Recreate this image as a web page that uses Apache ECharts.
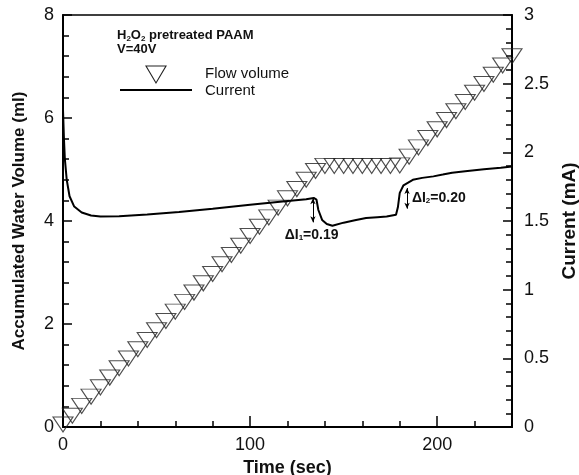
<!DOCTYPE html>
<html><head><meta charset="utf-8">
<script src="https://cdn.jsdelivr.net/npm/echarts@6/dist/echarts.min.js"></script>
<style>html,body{margin:0;padding:0;background:#fff}#c{width:579px;height:475px}</style>
</head><body><div id="c"></div>
<script>
// ---- data ----
const flowTime = [0,5,10,15,20,25,30,35,40,45,50,55,60,65,70,75,80,85,90,95,100,105,110,115,120,125,130,135,
  140,145,150,155,160,165,170,175,180,185,190,195,200,205,210,215,220,225,230,235,240];
const flowVolume = [0.05,0.22,0.41,0.59,0.77,0.96,1.14,1.33,1.51,1.69,1.88,2.06,2.24,2.43,2.61,2.79,2.97,3.16,3.34,3.52,3.71,3.89,4.07,4.26,4.44,4.62,4.80,4.97,
  5.07,5.07,5.07,5.07,5.07,5.07,5.07,5.07,5.08,5.25,5.43,5.61,5.78,5.96,6.13,6.31,6.49,6.66,6.84,7.02,7.20];

const currentTime = [0,0.5,1,2,3.5,6,10,15,20,30,45,62,80,100,116,130,134,135.5,136.5,138.5,141,144,150,156,162,168,173,178,179,180,182,187,192,198,203,208,215,225,234,240];
const currentValue = [2.31,2.10,1.95,1.80,1.68,1.605,1.562,1.540,1.532,1.535,1.548,1.566,1.590,1.618,1.640,1.658,1.668,1.655,1.58,1.508,1.478,1.465,1.488,1.505,1.522,1.528,1.532,1.545,1.60,1.705,1.76,1.80,1.814,1.825,1.838,1.852,1.862,1.876,1.887,1.896];

const xRange = [0, 240];
const volumeRange = [0, 8];
const currentRange = [0, 3];

// delta-I annotations (arrow time, arrow top/bottom current, label anchor)
const deltaNames = ['1', '2'];
const deltaValues = ['0.19', '0.20'];
const deltaArrowTime = [133.6, 183.9];
const deltaArrowTop = [1.665, 1.74];
const deltaArrowBottom = [1.49, 1.59];
const deltaLabelTime = [118.5, 186.5];
const deltaLabelCurrent = [1.40, 1.668];

const FONT = 'Arial, "Liberation Sans", Helvetica, sans-serif';
const chart = echarts.init(document.getElementById('c'), null, {renderer: 'canvas'});
const triPath = 'path://M0,0 L20,0 L10,17 Z';

const axisBase = {
  type: 'value',
  splitLine: {show: false},
  axisLine: {show: true, onZero: false, lineStyle: {color: '#000', width: 2}},
  axisLabel: {fontSize: 18, color: '#111', fontFamily: FONT, margin: 10},
  nameLocation: 'middle',
  nameTextStyle: {fontSize: 17, fontWeight: 'bold', color: '#111', fontFamily: FONT}
};

const option = {
  animation: false,
  backgroundColor: '#fff',
  grid: {left: 63, right: 67, top: 15, bottom: 48, containLabel: false, outerBoundsMode: 'none',
    show: true, borderColor: '#000', borderWidth: 1.5, backgroundColor: 'transparent'},
  xAxis: [
    Object.assign({}, axisBase, {
      min: xRange[0], max: xRange[1], interval: 20,
      axisTick: {show: true, inside: true, length: 6, lineStyle: {color: '#000', width: 1.5}},
      axisLabel: Object.assign({}, axisBase.axisLabel, {margin: 9, formatter: v => (v % 100 === 0 ? String(v) : '')}),
      name: 'Time (sec)', nameGap: 28,
      nameTextStyle: Object.assign({}, axisBase.nameTextStyle, {fontSize: 18})
    }),
    {
      type: 'value', min: xRange[0], max: xRange[1], interval: 100, position: 'bottom',
      axisLine: {show: false}, axisLabel: {show: false}, splitLine: {show: false},
      axisTick: {show: true, inside: true, length: 11, lineStyle: {color: '#000', width: 1.5}}
    }
  ],
  yAxis: [
    Object.assign({}, axisBase, {
      position: 'left', min: volumeRange[0], max: volumeRange[1], interval: 2,
      axisTick: {show: true, inside: true, length: 9, lineStyle: {color: '#000', width: 1.5}},
      minorTick: {show: true, splitNumber: 5, length: 6, lineStyle: {color: '#000', width: 1.5}},
      axisLabel: Object.assign({}, axisBase.axisLabel, {margin: 9}),
      name: 'Accumulated Water Volume (ml)', nameGap: 35, nameRotate: 90
    }),
    Object.assign({}, axisBase, {
      position: 'right', min: currentRange[0], max: currentRange[1], interval: 0.5,
      axisTick: {show: true, inside: true, length: 9, lineStyle: {color: '#000', width: 1.5}},
      minorTick: {show: true, splitNumber: 5, length: 6, lineStyle: {color: '#000', width: 1.5}},
      axisLabel: Object.assign({}, axisBase.axisLabel, {margin: 12}),
      name: 'Current (mA)', nameGap: 45, nameRotate: 90,
      nameTextStyle: Object.assign({}, axisBase.nameTextStyle, {fontSize: 19})
    })
  ],
  series: [
    {
      name: 'Flow volume', type: 'scatter', xAxisIndex: 0, yAxisIndex: 0,
      data: flowTime.map((t, i) => [t, flowVolume[i]]),
      symbol: triPath, symbolSize: [20, 15], clip: false,
      itemStyle: {color: 'rgba(0,0,0,0)', borderColor: '#222', borderWidth: 1.1},
      z: 2
    },
    {
      name: 'Current', type: 'line', xAxisIndex: 0, yAxisIndex: 1,
      data: currentTime.map((t, i) => [t, currentValue[i]]),
      showSymbol: false, symbol: 'none', smooth: false,
      lineStyle: {color: '#000', width: 2},
      z: 3,
      markLine: {
        silent: true, symbol: ['arrow', 'arrow'], symbolSize: [4, 6],
        lineStyle: {color: '#000', width: 1, type: 'solid'},
        label: {show: false},
        data: deltaArrowTime.map((t, i) => [{coord: [t, deltaArrowTop[i]]}, {coord: [t, deltaArrowBottom[i]]}])
      },
      markPoint: {
        silent: true, symbol: 'circle', symbolSize: 0,
        label: {
          show: true, position: 'right', distance: 0,
          fontFamily: FONT, fontSize: 14, fontWeight: 'bold', color: '#111',
          rich: {sub: {fontSize: 8, fontWeight: 'bold', verticalAlign: 'bottom', padding: [6, 0, 0, 0], fontFamily: FONT, color: '#111'}}
        },
        data: deltaNames.map((n, i) => ({
          coord: [deltaLabelTime[i], deltaLabelCurrent[i]],
          label: {formatter: '\u0394I{sub|' + n + '}=' + deltaValues[i]}
        }))
      }
    }
  ],
  graphic: [
    {type: 'text', left: 117, top: 29, style: {
      text: 'H{s|2}O{s|2} pretreated PAAM', font: 'bold 13px ' + FONT, fill: '#111',
      rich: {s: {font: 'bold 8px ' + FONT, fill: '#111', padding: [6, 0, 0, 0]}}}},
    {type: 'text', left: 117, top: 43, style: {text: 'V=40V', font: 'bold 13px ' + FONT, fill: '#111'}},
    {type: 'polygon', shape: {points: [[146, 66], [166, 66], [156, 83]]}, style: {fill: 'none', stroke: '#222', lineWidth: 1.1}},
    {type: 'text', left: 205, top: 66, style: {text: 'Flow volume', font: '15px ' + FONT, fill: '#111'}},
    {type: 'line', shape: {x1: 120, y1: 90, x2: 192, y2: 90}, style: {stroke: '#000', lineWidth: 2}},
    {type: 'text', left: 205, top: 83, style: {text: 'Current', font: '15px ' + FONT, fill: '#111'}}
  ]
};
chart.setOption(option);
</script>
</body></html>
